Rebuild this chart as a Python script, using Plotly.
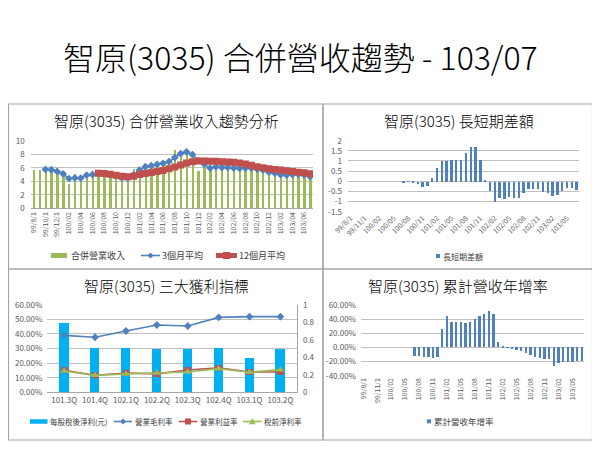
import plotly.graph_objects as go

# ---------------- data ----------------
months = ["99/8/1", "99/9/1", "99/10/1", "99/11/1", "99/12/1",
          "100/01", "100/02", "100/03", "100/04", "100/05", "100/06",
          "100/07", "100/08", "100/09", "100/10", "100/11", "100/12",
          "101/01", "101/02", "101/03", "101/04", "101/05", "101/06",
          "101/07", "101/08", "101/09", "101/10", "101/11", "101/12",
          "102/01", "102/02", "102/03", "102/04", "102/05", "102/06",
          "102/07", "102/08", "102/09", "102/10", "102/11", "102/12",
          "103/01", "103/02", "103/03", "103/04", "103/05", "103/06",
          "103/07"]

# monthly revenue (億)
revenue = [5.7, 5.7, 5.8, 5.6, 5.3, 4.9, 3.6, 5.1, 4.7, 5.0, 5.0, 5.3,
           5.0, 4.8, 4.6, 4.2, 4.4, 5.8, 5.9, 6.3, 6.1, 6.5, 6.4, 7.0,
           8.7, 7.8, 8.5, 7.6, 5.5, 6.5, 5.8, 6.1, 6.0, 6.0, 5.9, 6.0,
           5.8, 5.9, 5.6, 5.4, 5.1, 4.9, 4.6, 5.1, 5.0, 5.0, 4.8, 4.4]

# 3-month average, starting 99/10
avg3 = [5.75, 5.7, 5.45, 5.1, 4.4, 4.5, 4.45, 4.9, 5.0,
        5.15, 5.15, 5.0, 4.8, 4.5, 4.45, 4.95, 5.65, 6.15, 6.3, 6.5, 6.65,
        6.9, 7.5, 8.1, 8.35, 7.95, 7.05, 6.55, 5.95, 6.15, 6.05, 6.05, 5.95,
        5.9, 5.95, 5.95, 5.8, 5.65, 5.35, 5.2, 4.95, 4.9, 5.0, 5.05, 4.95, 4.7]

# 12-month average, starting 100/07
avg12 = [5.2, 5.15, 5.05, 4.9, 4.75, 4.65, 4.75, 5.0, 5.15, 5.3, 5.45, 5.6,
         5.85, 6.1, 6.4, 6.7, 6.9, 7.0, 7.0, 6.95, 6.95, 6.9, 6.85, 6.8,
         6.7, 6.55, 6.35, 6.15, 6.0, 5.85, 5.75, 5.65, 5.55, 5.45, 5.35,
         5.25, 5.1]

# long/short difference, starting 100/07
diff = [-0.05, 0.02, -0.05, -0.12, -0.25, -0.2, 0.2, 0.65, 1.0, 1.02, 1.05,
        1.05, 1.07, 1.4, 1.7, 1.68, 1.07, 0.05, -0.45, -1.0, -0.8, -0.87,
        -0.78, -0.83, -0.8, -0.58, -0.37, -0.35, -0.35, -0.5, -0.55, -0.7,
        -0.67, -0.45, -0.3, -0.3, -0.42]

# cumulative revenue YoY, starting 100/07
cum_yoy = [-0.129, -0.129, -0.133, -0.143, -0.152, -0.143, 0.257, 0.443,
           0.362, 0.362, 0.362, 0.338, 0.362, 0.405, 0.443, 0.476, 0.51,
           0.471, 0.076, 0.014, -0.004, -0.014, -0.033, -0.052, -0.076,
           -0.105, -0.133, -0.152, -0.162, -0.171, -0.271, -0.229, -0.214,
           -0.205, -0.205, -0.2, -0.2]

quarters = ["101.3Q", "101.4Q", "102.1Q", "102.2Q", "102.3Q", "102.4Q",
            "103.1Q", "103.2Q"]
eps = [0.79, 0.51, 0.505, 0.495, 0.495, 0.505, 0.40, 0.495]
gross_margin = [0.390, 0.377, 0.420, 0.461, 0.454, 0.513, 0.518, 0.518]
oper_margin = [0.151, 0.116, 0.132, 0.126, 0.153, 0.167, 0.139, 0.139]
pretax_margin = [0.146, 0.116, 0.126, 0.132, 0.139, 0.162, 0.137, 0.155]

diff_ticks = [-1.5, -1, -0.5, 0, 0.5, 1, 1.5, 2]
diff_tick_text = ["-1.5", "-1", "-0.5", "0", "0.5", "1", "1.5", "2"]
yoy_ticks = [-0.4, -0.2, 0, 0.2, 0.4, 0.6]
yoy_tick_text = ["-40.00%", "-20.00%", "0.00%", "20.00%", "40.00%", "60.00%"]

# ---------------- helpers ----------------
# the page body has an 8px margin, so the figure starts at (8, 8)
OFF = 8
W, H = 600 - OFF, 450 - OFF


def X(px):
    return (px - OFF) / W


def Y(py):
    return 1 - (py - OFF) / H


GREEN = "#9BBB59"
BLUE = "#4F81BD"
RED = "#C0504D"
CYAN = "#00B0F0"
GRID = "#C0C0C0"
TICK = "#595959"
LEGTXT = "#404040"
FONT = "Noto Sans CJK TC, Noto Sans, sans-serif"

fig = go.Figure()

# ---- top-left: revenue trend ----
fig.add_trace(go.Bar(x=months, y=revenue, xaxis="x", yaxis="y",
                     marker=dict(color=GREEN, line=dict(width=0)), width=0.4,
                     name="合併營業收入"))
fig.add_trace(go.Scatter(x=months[2:], y=avg3, xaxis="x", yaxis="y",
                         mode="lines+markers",
                         line=dict(color=BLUE, width=1.6),
                         marker=dict(symbol="diamond", size=6, color=BLUE),
                         name="3個月平均"))
fig.add_trace(go.Scatter(x=months[11:], y=avg12, xaxis="x", yaxis="y",
                         mode="lines+markers",
                         line=dict(color=RED, width=5),
                         marker=dict(symbol="square", size=7, color=RED),
                         name="12個月平均"))

# ---- top-right: long/short difference ----
fig.add_trace(go.Bar(x=months[11:], y=diff, xaxis="x2", yaxis="y2",
                     marker=dict(color=BLUE, line=dict(width=0)), width=0.5,
                     name="長短期差額"))

# ---- bottom-left: profitability ----
fig.add_trace(go.Bar(x=quarters, y=eps, xaxis="x3", yaxis="y3",
                     marker=dict(color=CYAN, line=dict(width=0)), width=0.3,
                     name="每股稅後淨利(元)"))
fig.add_trace(go.Scatter(x=quarters, y=gross_margin, xaxis="x3", yaxis="y5",
                         mode="lines+markers",
                         line=dict(color=BLUE, width=1.6),
                         marker=dict(symbol="diamond", size=6, color=BLUE),
                         name="營業毛利率"))
fig.add_trace(go.Scatter(x=quarters, y=oper_margin, xaxis="x3", yaxis="y5",
                         mode="lines+markers",
                         line=dict(color=RED, width=1.6),
                         marker=dict(symbol="square", size=6, color=RED),
                         name="營業利益率"))
fig.add_trace(go.Scatter(x=quarters, y=pretax_margin, xaxis="x3", yaxis="y5",
                         mode="lines+markers",
                         line=dict(color=GREEN, width=1.6),
                         marker=dict(symbol="triangle-up", size=7, color=GREEN),
                         name="稅前淨利率"))

# ---- bottom-right: cumulative YoY ----
fig.add_trace(go.Bar(x=months[11:], y=cum_yoy, xaxis="x4", yaxis="y4",
                     marker=dict(color=BLUE, line=dict(width=0)), width=0.5,
                     name="累計營收年增率"))

tickfont = dict(size=7, color=TICK)
ytickfont = dict(size=8, color=TICK)

cat_common = dict(type="category", categoryorder="array",
                  categoryarray=months, range=[-0.5, len(months) - 0.5],
                  showgrid=False, zeroline=False, fixedrange=True)

fig.update_layout(
    width=W, height=H,
    margin=dict(l=0, r=0, t=0, b=0, pad=0, autoexpand=False),
    paper_bgcolor="white", plot_bgcolor="white",
    font=dict(family=FONT, color=TICK),
    showlegend=False,
    bargap=0,
    # top-left
    xaxis=dict(domain=[X(30.7), X(313)], anchor="y",
               tickvals=months[::2], tickangle=-90, tickfont=tickfont,
               showline=True, linecolor="#A6A6A6", linewidth=1,
               **cat_common),
    yaxis=dict(domain=[Y(208.3), Y(140.7)], anchor="x", range=[0, 10],
               dtick=2, gridcolor=GRID, tickfont=ytickfont,
               zeroline=False, ticklabelstandoff=5),
    # top-right
    xaxis2=dict(domain=[X(348), X(579)], anchor="y2",
                tickvals=months[::3], tickangle=-45, tickfont=tickfont,
                **cat_common),
    yaxis2=dict(domain=[Y(211.7), Y(140.7)], anchor="x2", range=[-1.5, 2],
                tickvals=diff_ticks, ticktext=diff_tick_text,
                gridcolor=GRID, tickfont=ytickfont, zeroline=False,
                ticklabelstandoff=5),
    # bottom-left
    xaxis3=dict(domain=[X(47.3), X(297.3)], anchor="y3", type="category",
                tickfont=dict(size=8, color=TICK), showgrid=False,
                showline=True, linecolor="#A6A6A6", linewidth=1),
    yaxis3=dict(domain=[Y(392.3), Y(304.7)], anchor="x3", side="right",
                range=[0, 1], dtick=0.2, showgrid=False, zeroline=False,
                showline=True, linecolor="#A6A6A6", linewidth=1,
                tickfont=ytickfont, ticklabelstandoff=3),
    yaxis5=dict(overlaying="y3", anchor="x3", side="left", range=[0, 0.6],
                dtick=0.1, tickformat=".2%", gridcolor=GRID, zeroline=False,
                tickfont=ytickfont, ticklabelstandoff=4),
    # bottom-right
    xaxis4=dict(domain=[X(361), X(584)], anchor="y4",
                tickvals=months[::3], tickangle=-90, tickfont=tickfont,
                **cat_common),
    yaxis4=dict(domain=[Y(375.7), Y(305.3)], anchor="x4", range=[-0.4, 0.6],
                tickvals=yoy_ticks, ticktext=yoy_tick_text,
                gridcolor=GRID, tickfont=ytickfont, zeroline=False,
                ticklabelstandoff=4),
)

# ---------------- titles ----------------
titles = [
    ("智原(3035) 合併營收趨勢 - 103/07", 300, 56, 32),
    ("智原(3035) 合併營業收入趨勢分析", 166, 121, 15),
    ("智原(3035) 長短期差額", 459, 121, 15),
    ("智原(3035) 三大獲利指標", 166, 285, 15),
    ("智原(3035) 累計營收年增率", 458, 285, 15),
]
for text, px, py, size in titles:
    fig.add_annotation(text=text, x=X(px), y=Y(py), xref="paper", yref="paper",
                       xanchor="center", yanchor="middle", showarrow=False,
                       font=dict(family=FONT, size=size, color="#000000",
                                 weight=300))


# ---------------- manual legends ----------------
def legend_rect(x0, x1, yc, h, color):
    fig.add_shape(type="rect", xref="paper", yref="paper",
                  x0=X(x0), x1=X(x1), y0=Y(yc + h / 2), y1=Y(yc - h / 2),
                  line=dict(width=0), fillcolor=color)


def legend_line(x0, x1, yc, color, width, symbol, msize):
    fig.add_shape(type="line", xref="paper", yref="paper",
                  x0=X(x0), x1=X(x1), y0=Y(yc), y1=Y(yc),
                  line=dict(color=color, width=width))
    cx = (x0 + x1) / 2
    r = msize / 2
    if symbol == "square":
        path = (f"M{X(cx - r)},{Y(yc - r)} L{X(cx + r)},{Y(yc - r)} "
                f"L{X(cx + r)},{Y(yc + r)} L{X(cx - r)},{Y(yc + r)} Z")
    elif symbol == "diamond":
        path = (f"M{X(cx - r)},{Y(yc)} L{X(cx)},{Y(yc - r)} "
                f"L{X(cx + r)},{Y(yc)} L{X(cx)},{Y(yc + r)} Z")
    else:  # triangle-up
        path = (f"M{X(cx - r)},{Y(yc + r * 0.8)} L{X(cx)},{Y(yc - r)} "
                f"L{X(cx + r)},{Y(yc + r * 0.8)} Z")
    fig.add_shape(type="path", xref="paper", yref="paper", path=path,
                  line=dict(width=0), fillcolor=color)


def legend_text(x, yc, text, size):
    fig.add_annotation(text=text, x=X(x), y=Y(yc), xref="paper", yref="paper",
                       xanchor="left", yanchor="middle", showarrow=False,
                       font=dict(family=FONT, size=size, color=LEGTXT))


# top-left legend
legend_rect(51, 67, 255.5, 5, GREEN)
legend_text(69, 255.5, "合併營業收入", 9)
legend_line(141, 160, 255.5, BLUE, 1.6, "diamond", 6)
legend_text(160, 255.5, "3個月平均", 9)
legend_line(216, 237, 255.5, RED, 5, "square", 7)
legend_text(237, 255.5, "12個月平均", 9)

# top-right legend
legend_rect(436, 440, 256, 4, BLUE)
legend_text(440.5, 256, "長短期差額", 8)

# bottom-left legend
legend_rect(30, 47.5, 421.5, 4.5, CYAN)
legend_text(47.5, 421.5, "每股稅後淨利(元)", 7.5)
legend_line(114, 132, 421.5, BLUE, 1.6, "diamond", 6)
legend_text(132.5, 421.5, "營業毛利率", 7.5)
legend_line(179, 197, 421.5, RED, 1.6, "square", 6)
legend_text(197.5, 421.5, "營業利益率", 7.5)
legend_line(243, 261.5, 421.5, GREEN, 1.6, "triangle", 7)
legend_text(262, 421.5, "稅前淨利率", 7.5)

# bottom-right legend
legend_rect(427, 431, 421.3, 4, BLUE)
legend_text(431.5, 421.3, "累計營收年增率", 8.5)

# ---------------- panel borders ----------------
panels = [(8.5, 104, 323, 269), (323, 104, 592.5, 269),
          (8.5, 269, 323, 440), (323, 269, 592.5, 440)]
for x0, y0, x1, y1 in panels:
    fig.add_shape(type="rect", xref="paper", yref="paper",
                  x0=X(x0), x1=X(x1), y0=Y(y1), y1=Y(y0),
                  line=dict(color="#A6A6A6", width=1.2),
                  fillcolor="rgba(0,0,0,0)", layer="above")

fig.write_html("out.html")
